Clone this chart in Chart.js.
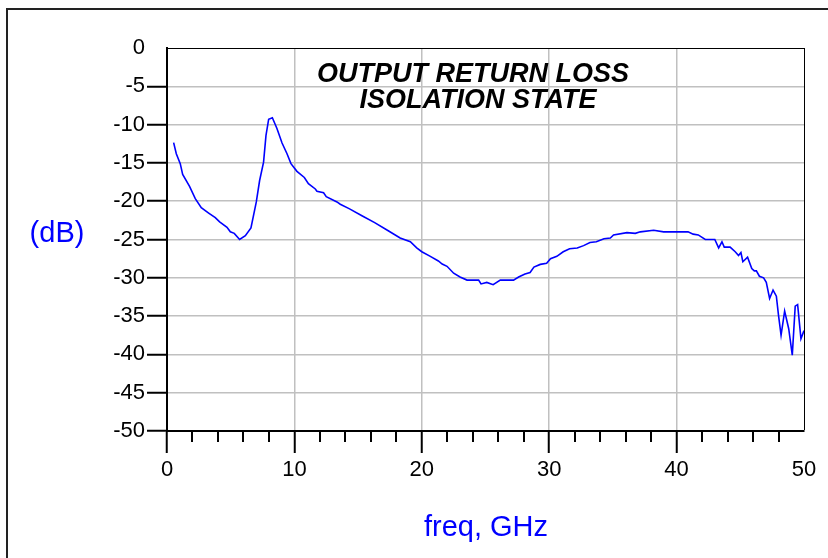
<!DOCTYPE html>
<html>
<head>
<meta charset="utf-8">
<script src="https://cdn.jsdelivr.net/npm/chart.js@4.4.1/dist/chart.umd.min.js"></script>
<style>
  html, body { margin: 0; padding: 0; background: #fff; width: 828px; height: 558px; overflow: hidden; }
  #frame { position: absolute; left: 6px; top: 8px; width: 900px; height: 700px; border-top: 2px solid #222; border-left: 2px solid #222; }
  #c { position: absolute; left: 0; top: 0; }
</style>
</head>
<body>
<div id="frame"></div>
<canvas id="c" width="828" height="558"></canvas>
<script>
// ---- data ----
const freqGHz = [0.52,0.73,1.04,1.23,1.77,2.22,2.69,3.27,3.79,4.13,4.71,4.97,5.28,5.7,6.15,6.59,7.01,7.27,7.58,7.77,7.98,8.27,8.63,9.03,9.42,9.73,10.2,10.78,11.1,11.64,11.77,12.29,12.5,13.34,13.6,14.33,15.3,16.3,17.3,18.3,19.1,19.6,20.0,20.67,21.3,21.6,21.98,22.5,23.0,23.55,24.46,24.65,25.1,25.6,26.16,27.2,27.6,28.1,28.5,28.8,29.3,29.8,30.1,30.6,31.1,31.6,32.2,32.7,33.2,33.7,34.3,34.8,35.05,36.1,36.76,37.15,38.2,38.98,40.9,41.3,41.7,42.25,43.0,43.3,43.56,43.74,44.2,44.6,44.86,45.05,45.2,45.57,45.9,46.1,46.26,46.5,46.83,47.04,47.3,47.57,47.83,48.0,48.2,48.48,48.8,49.08,49.31,49.5,49.76,50.0];
const returnLossDB = [-12.36,-13.8,-15.1,-16.5,-18.07,-19.67,-20.85,-21.55,-22.15,-22.7,-23.4,-24.0,-24.2,-25.0,-24.5,-23.5,-20.1,-17.3,-14.9,-11.4,-9.3,-9.1,-10.5,-12.4,-13.8,-15.1,-16.1,-16.9,-17.7,-18.4,-18.7,-18.9,-19.4,-20.1,-20.4,-21.0,-21.9,-22.8,-23.8,-24.8,-25.3,-26.1,-26.6,-27.2,-27.8,-28.2,-28.5,-29.4,-29.9,-30.3,-30.3,-30.8,-30.6,-30.9,-30.3,-30.3,-29.9,-29.5,-29.3,-28.6,-28.25,-28.1,-27.5,-27.2,-26.6,-26.2,-26.1,-25.8,-25.4,-25.3,-24.9,-24.8,-24.4,-24.1,-24.2,-24.0,-23.8,-24.0,-24.0,-24.3,-24.4,-25.0,-25.0,-26.1,-25.3,-26.0,-26.0,-26.6,-27.1,-26.7,-27.9,-27.3,-28.8,-29.1,-29.1,-29.8,-30.0,-30.6,-32.7,-31.6,-32.4,-34.9,-37.5,-34.35,-36.65,-40.1,-33.7,-33.5,-37.95,-36.9];
const xTickValues = [0,10,20,30,40,50];
const xMinorTickValues = [2,4,6,8,12,14,16,18,22,24,26,28,32,34,36,38,42,44,46,48];
const yTickValues = [0,-5,-10,-15,-20,-25,-30,-35,-40,-45,-50];
const titleLines = ["OUTPUT RETURN LOSS", "ISOLATION STATE"];
const yAxisTitle = "(dB)";
const xAxisTitle = "freq, GHz";

const points = freqGHz.map((f, i) => ({ x: f, y: returnLossDB[i] }));
const GRID = '#c0c0c0';
const FONT = "'Liberation Sans', Arial, sans-serif";

const decorPlugin = {
  id: 'decor',
  afterDraw(chart) {
    const ctx = chart.ctx;
    const xs = chart.scales.x;
    const area = chart.chartArea;
    ctx.save();
    // minor ticks below x axis
    ctx.strokeStyle = '#000';
    ctx.lineWidth = 2;
    xMinorTickValues.forEach(v => {
      const px = Math.round(xs.getPixelForValue(v));
      ctx.beginPath();
      ctx.moveTo(px, area.bottom);
      ctx.lineTo(px, area.bottom + 11);
      ctx.stroke();
    });
    // title inside the plot
    ctx.fillStyle = '#000';
    ctx.textAlign = 'center';
    ctx.textBaseline = 'alphabetic';
    ctx.font = "italic bold 27px " + FONT;
    ctx.fillText(titleLines[0], 473, 82);
    ctx.fillText(titleLines[1], 478, 108);
    // axis titles
    ctx.fillStyle = '#0000ff';
    ctx.font = "29px " + FONT;
    ctx.fillText(yAxisTitle, 57, 242);
    ctx.fillText(xAxisTitle, 486, 536);
    ctx.restore();
  }
};

new Chart(document.getElementById('c'), {
  type: 'line',
  data: {
    datasets: [{
      data: points,
      borderColor: '#0000ff',
      borderWidth: 1.6,
      pointRadius: 0,
      tension: 0,
      fill: false
    }]
  },
  options: {
    responsive: false,
    animation: false,
    layout: { padding: { left: 0, top: 48, right: 24, bottom: 0 } },
    plugins: { legend: { display: false }, tooltip: { enabled: false }, title: { display: false } },
    scales: {
      x: {
        type: 'linear',
        min: 0, max: 50,
        afterBuildTicks: s => { s.ticks = xTickValues.map(v => ({ value: v })); },
        afterFit: s => { s.height = 127; },
        ticks: {
          color: '#000',
          font: { family: FONT, size: 22 },
          padding: 4,
          maxRotation: 0,
          autoSkip: false,
          callback: v => String(v)
        },
        grid: {
          color: c => c.tick && c.tick.value === 50 ? '#000' : (c.tick && c.tick.value === 0 ? 'rgba(0,0,0,0)' : GRID),
          lineWidth: c => c.tick && c.tick.value === 50 ? 1 : 1.5,
          tickColor: c => c.tick && c.tick.value === 50 ? 'rgba(0,0,0,0)' : '#000',
          tickWidth: 2,
          tickLength: 22,
          drawTicks: true
        },
        border: { display: true, color: '#000', width: 2 }
      },
      y: {
        type: 'linear',
        min: -50, max: 0,
        afterBuildTicks: s => { s.ticks = yTickValues.map(v => ({ value: v })); },
        afterFit: s => { s.width = 167; },
        ticks: {
          color: '#000',
          font: { family: FONT, size: 22 },
          padding: 2,
          autoSkip: false,
          callback: v => String(v)
        },
        grid: {
          color: c => c.tick && c.tick.value === 0 ? '#000' : (c.tick && c.tick.value === -50 ? 'rgba(0,0,0,0)' : GRID),
          lineWidth: c => c.tick && c.tick.value === 0 ? 1 : 1.5,
          tickColor: c => c.tick && c.tick.value === 0 ? 'rgba(0,0,0,0)' : '#000',
          tickWidth: 2,
          tickLength: 20,
          drawTicks: true
        },
        border: { display: true, color: '#000', width: 2 }
      }
    }
  },
  plugins: [decorPlugin]
});
</script>
</body>
</html>
